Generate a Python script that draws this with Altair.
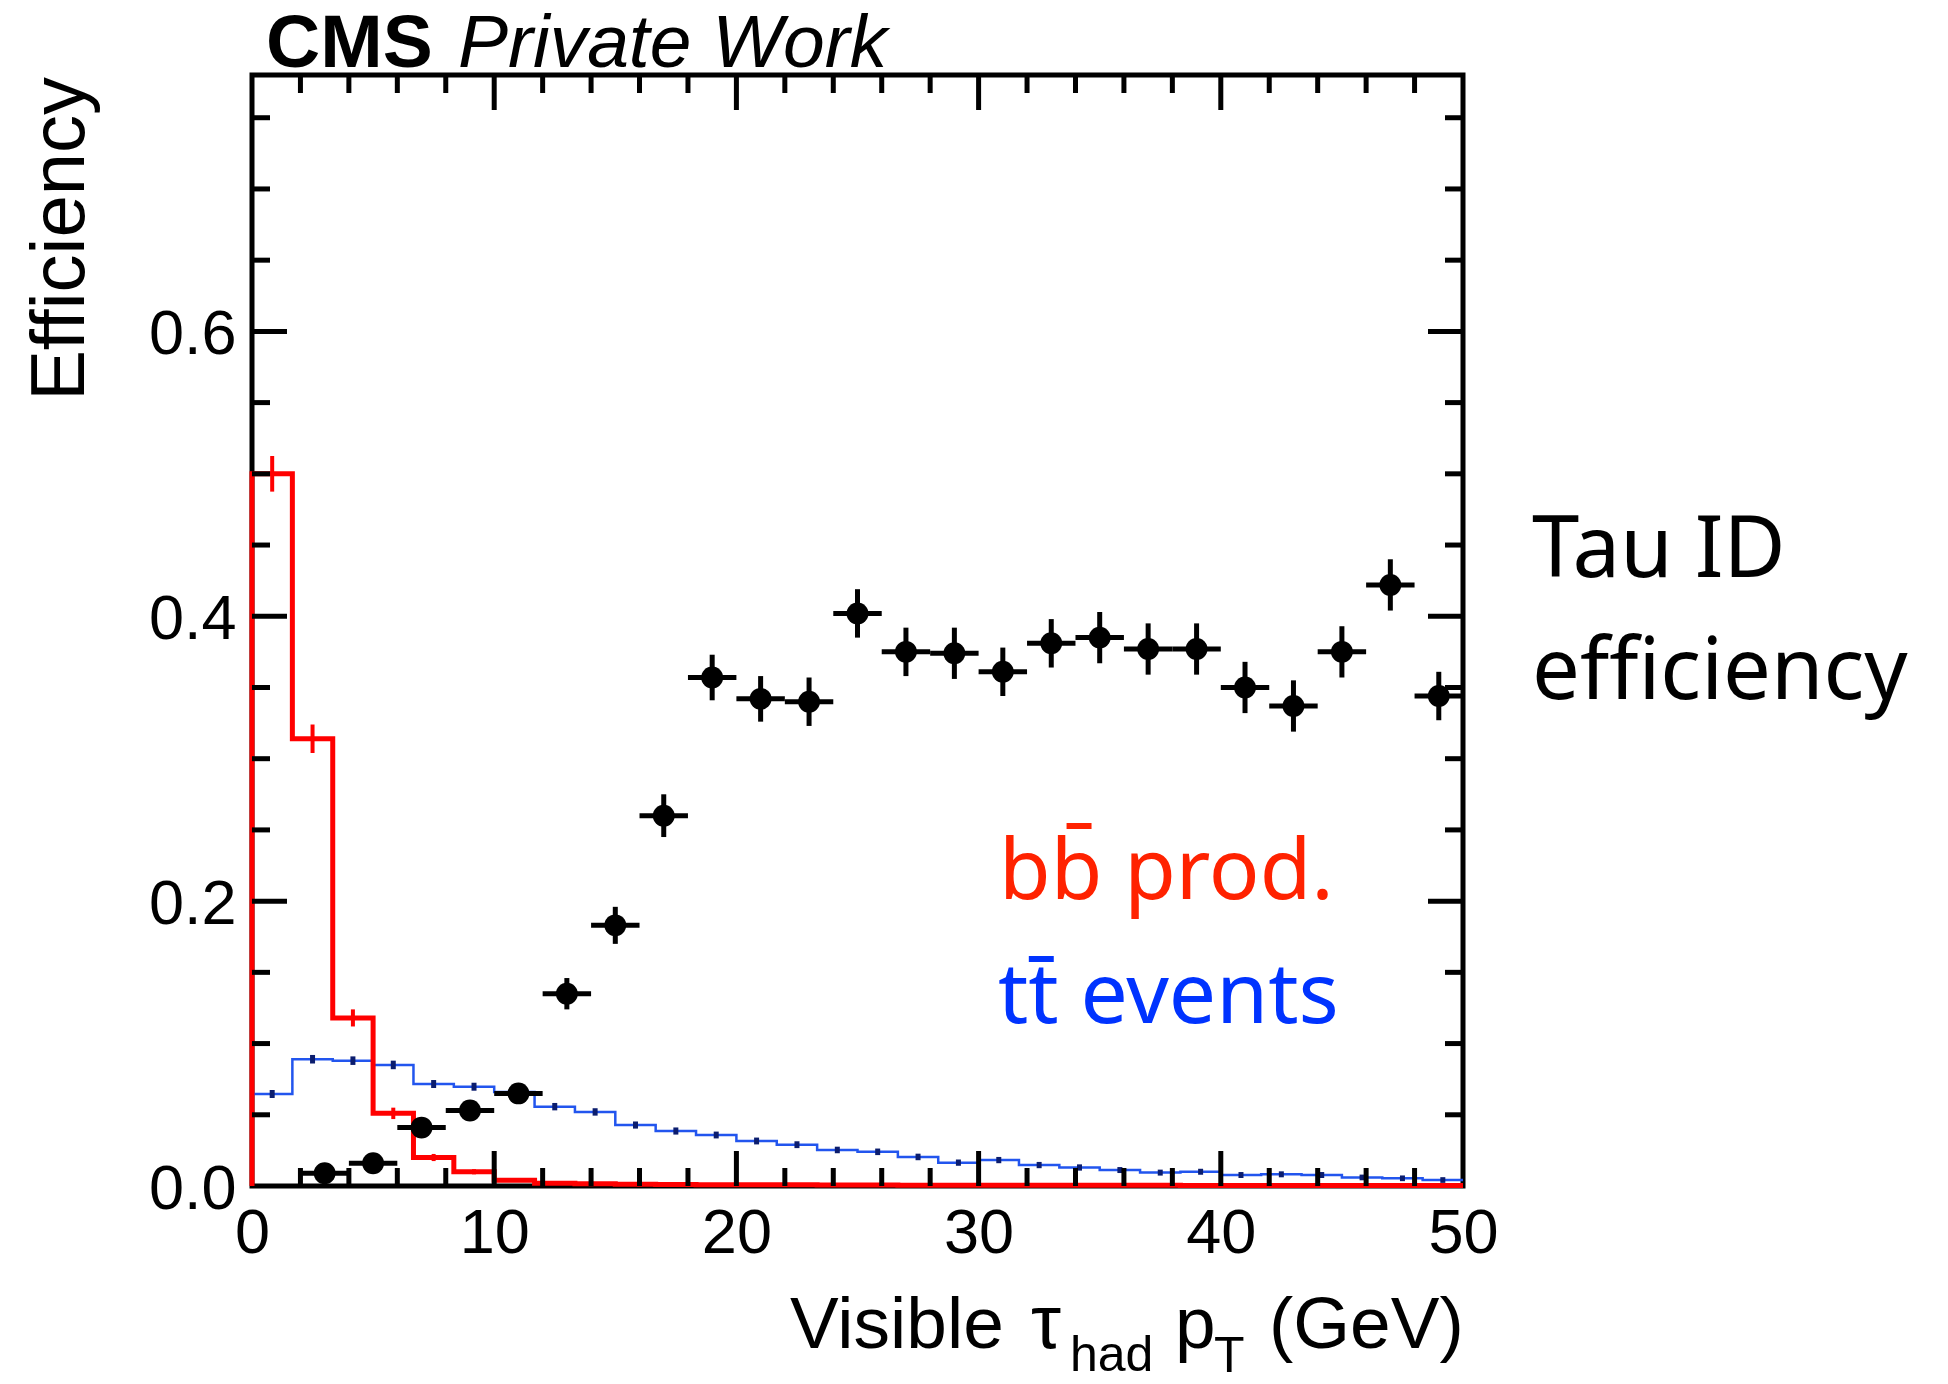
import altair as alt
import pandas as pd

# ---------------------------------------------------------------------------
# Binning
# ---------------------------------------------------------------------------
PT_MAX = 50.0
N_SPEC_BINS = 30                      # spectra: 30 bins over 0-50 GeV
SPEC_W = PT_MAX / N_SPEC_BINS
EFF_HALF_W = 1.0                      # efficiency: 2 GeV bins

# Normalised visible tau_had pT spectrum, b-bbar production
BB_SPECTRUM = [0.500, 0.314, 0.118, 0.051, 0.020, 0.010, 0.004, 0.002,
               0.0015, 0.0012, 0.0010, 0.0009, 0.0008, 0.0008, 0.0007,
               0.0007, 0.0006, 0.0006, 0.0006, 0.0005, 0.0005, 0.0005,
               0.0005, 0.0004, 0.0004, 0.0004, 0.0004, 0.0004, 0.0003,
               0.0003]
BB_ERROR = [0.0125, 0.010, 0.006, 0.004, 0.0025, 0.0018, 0.0012, 0.0008,
            0.0006, 0.0005, 0.0005, 0.0004, 0.0004, 0.0004, 0.0003,
            0.0003, 0.0003, 0.0003, 0.0003, 0.0002, 0.0002, 0.0002,
            0.0002, 0.0002, 0.0002, 0.0002, 0.0002, 0.0002, 0.0002,
            0.0002]

# Normalised visible tau_had pT spectrum, t-tbar events
TT_SPECTRUM = [0.0646, 0.0890, 0.0880, 0.0850, 0.0716, 0.0697, 0.0660,
               0.0557, 0.0520, 0.0428, 0.0386, 0.0358, 0.0316, 0.0290,
               0.0253, 0.0240, 0.0204, 0.0164, 0.0182, 0.0147, 0.0130,
               0.0112, 0.0094, 0.0100, 0.0077, 0.0082, 0.0077, 0.0060,
               0.0054, 0.0042]
TT_ERROR = [0.0028, 0.0030, 0.0030, 0.0030, 0.0028, 0.0028, 0.0027,
            0.0026, 0.0026, 0.0025, 0.0025, 0.0024, 0.0024, 0.0024,
            0.0023, 0.0023, 0.0023, 0.0022, 0.0022, 0.0022, 0.0022,
            0.0021, 0.0021, 0.0021, 0.0021, 0.0021, 0.0021, 0.0020,
            0.0020, 0.0020]

# Tau ID efficiency vs visible tau_had pT
EFF_PT = [3, 5, 7, 9, 11, 13, 15, 17, 19, 21, 23, 25, 27, 29, 31, 33, 35,
          37, 39, 41, 43, 45, 47, 49]
EFF = [0.009, 0.016, 0.041, 0.053, 0.065, 0.135, 0.183, 0.260, 0.357,
       0.342, 0.340, 0.402, 0.375, 0.374, 0.361, 0.381, 0.385, 0.377,
       0.377, 0.350, 0.337, 0.375, 0.422, 0.344]
EFF_ERR = [0.003, 0.004, 0.006, 0.006, 0.007, 0.011, 0.013, 0.015, 0.016,
           0.016, 0.017, 0.017, 0.017, 0.018, 0.017, 0.017, 0.018, 0.018,
           0.018, 0.018, 0.018, 0.018, 0.018, 0.017]

# Axis ticks
X_MAJOR = [0, 10, 20, 30, 40, 50]
X_MINOR = [v for v in range(0, 51, 2) if v % 10]
Y_MAJOR = [0.0, 0.2, 0.4, 0.6]
Y_MINOR = [0.05, 0.10, 0.15, 0.25, 0.30, 0.35, 0.45, 0.50, 0.55, 0.65,
           0.70, 0.75]

# ---------------------------------------------------------------------------
# Geometry and style
# ---------------------------------------------------------------------------
W, H = 1211, 1111
MAJOR_LEN, MINOR_LEN = 35, 18
FRAME_W = 5
HELV = "Liberation Sans"
SANS = "Noto Sans"
RED_LINE, BLUE_LINE = "#ff0000", "#2255ee"
RED_TEXT, BLUE_TEXT = "#ff2200", "#0033ff"

x_scale = alt.Scale(domain=[0, PT_MAX], nice=False, zero=False)
y_scale = alt.Scale(domain=[0, 0.78], nice=False, zero=False)

x_axis = alt.Axis(values=X_MAJOR, format="d", title=None, ticks=False,
                  tickSize=0, domain=False, grid=False, labelFont=HELV,
                  labelFontSize=63, labelColor="black", labelPadding=16,
                  labelFlush=False, labelOverlap=False)
y_axis = alt.Axis(values=Y_MAJOR, format=".1f", title=None, ticks=False,
                  tickSize=0, domain=False, grid=False, labelFont=HELV,
                  labelFontSize=63, labelColor="black", labelPadding=16,
                  labelOffset=3, labelOverlap=False)


def X(field):
    return alt.X(field, scale=x_scale, axis=x_axis)


def Y(field):
    return alt.Y(field, scale=y_scale, axis=y_axis)


def step_table(values, start_at_zero):
    """Outline points of a histogram drawn with step-after interpolation."""
    rows = []
    if start_at_zero:
        rows.append({"pt": 0.0, "val": 0.0})
    for k, v in enumerate(values):
        rows.append({"pt": k * SPEC_W, "val": v})
    rows.append({"pt": PT_MAX, "val": values[-1]})
    for i, r in enumerate(rows):
        r["i"] = i
    return pd.DataFrame(rows)


def err_table(values, errors):
    return pd.DataFrame({
        "pt": [(k + 0.5) * SPEC_W for k in range(len(values))],
        "lo": [max(v - e, 0.0) for v, e in zip(values, errors)],
        "hi": [v + e for v, e in zip(values, errors)],
    })


bb_df = step_table(BB_SPECTRUM, True)
tt_df = step_table(TT_SPECTRUM, False)
bb_err = err_table(BB_SPECTRUM, BB_ERROR)
tt_err = err_table(TT_SPECTRUM, TT_ERROR)

eff_df = pd.DataFrame({
    "pt": EFF_PT,
    "eff": EFF,
    "xlo": [p - EFF_HALF_W for p in EFF_PT],
    "xhi": [p + EFF_HALF_W for p in EFF_PT],
    "ylo": [e - d for e, d in zip(EFF, EFF_ERR)],
    "yhi": [e + d for e, d in zip(EFF, EFF_ERR)],
})

# --- spectra -----------------------------------------------------------------
tt_line = alt.Chart(tt_df).mark_line(
    interpolate="step-after", color=BLUE_LINE, strokeWidth=2.5
).encode(x=X("pt:Q"), y=Y("val:Q"), order="i:Q")
tt_bars = alt.Chart(tt_err).mark_rule(color="#0b1d6e", strokeWidth=5).encode(
    x=X("pt:Q"), y=Y("lo:Q"), y2="hi:Q"
)
bb_line = alt.Chart(bb_df).mark_line(
    interpolate="step-after", color=RED_LINE, strokeWidth=5
).encode(x=X("pt:Q"), y=Y("val:Q"), order="i:Q")
bb_bars = alt.Chart(bb_err).mark_rule(color=RED_LINE, strokeWidth=4).encode(
    x=X("pt:Q"), y=Y("lo:Q"), y2="hi:Q"
)

# --- efficiency points --------------------------------------------------------
eff_x = alt.Chart(eff_df).mark_rule(color="black", strokeWidth=5).encode(
    x=X("xlo:Q"), x2="xhi:Q", y=Y("eff:Q")
)
eff_y = alt.Chart(eff_df).mark_rule(color="black", strokeWidth=5).encode(
    x=X("pt:Q"), y=Y("ylo:Q"), y2="yhi:Q"
)
eff_pts = alt.Chart(eff_df).mark_circle(color="black", opacity=1, size=480).encode(
    x=X("pt:Q"), y=Y("eff:Q")
)


# --- inward ticks on all four sides ----------------------------------------------
def x_ticks(vals, length):
    d = pd.DataFrame({"v": vals})
    rule = alt.Chart(d).mark_rule(color="black", strokeWidth=FRAME_W)
    bottom = rule.encode(x=X("v:Q"), y=alt.value(H), y2=alt.value(H - length))
    top = rule.encode(x=X("v:Q"), y=alt.value(0), y2=alt.value(length))
    return [bottom, top]


def y_ticks(vals, length):
    d = pd.DataFrame({"v": vals})
    rule = alt.Chart(d).mark_rule(color="black", strokeWidth=FRAME_W)
    left = rule.encode(y=Y("v:Q"), x=alt.value(0), x2=alt.value(length))
    right = rule.encode(y=Y("v:Q"), x=alt.value(W), x2=alt.value(W - length))
    return [left, right]


ticks = (x_ticks(X_MAJOR[1:-1], MAJOR_LEN) + x_ticks(X_MINOR, MINOR_LEN)
         + y_ticks(Y_MAJOR[1:], MAJOR_LEN) + y_ticks(Y_MINOR, MINOR_LEN))


# --- text ---------------------------------------------------------------------
def label(text, x, y, size, font=HELV, color="black", weight="normal",
          style="normal", align="left", angle=0):
    return alt.Chart(pd.DataFrame({"t": [text]})).mark_text(
        font=font, fontSize=size, color=color, fontWeight=weight,
        fontStyle=style, align=align, baseline="alphabetic", angle=angle,
    ).encode(text="t:N", x=alt.value(x), y=alt.value(y))


texts = [
    label("CMS", 14, -8, 75, weight="bold"),
    label("Private Work", 206, -8, 75, style="italic"),
    label("Efficiency", -168, 2, 76, align="right", angle=270),
    label("Visible", 538, 1273, 73),
    label("τ", 779, 1273, 76),
    label("had", 818, 1296, 50),
    label("p", 923, 1273, 73),
    label("T", 962, 1297, 50),
    label("(GeV)", 1017, 1273, 73),
    label("bb\u0304 prod.", 747, 824, 84, font=SANS, color=RED_TEXT),
    label("tt\u0304 events", 746, 948, 84, font=SANS, color=BLUE_TEXT),
    label("Tau ID", 1280, 502, 85, font=SANS),
    label("efficiency", 1280, 624, 85, font=SANS),
]

chart = alt.layer(
    tt_line, tt_bars, bb_line, bb_bars, eff_x, eff_y, eff_pts, *ticks, *texts
).properties(
    width=W,
    height=H,
    autosize=alt.AutoSizeParams(type="none"),
    padding={"left": 252, "top": 75, "right": 485, "bottom": 198},
    background="white",
).configure_view(
    stroke="black", strokeWidth=FRAME_W,
)

chart.save("out.html", embed_options={"renderer": "svg", "actions": False})
